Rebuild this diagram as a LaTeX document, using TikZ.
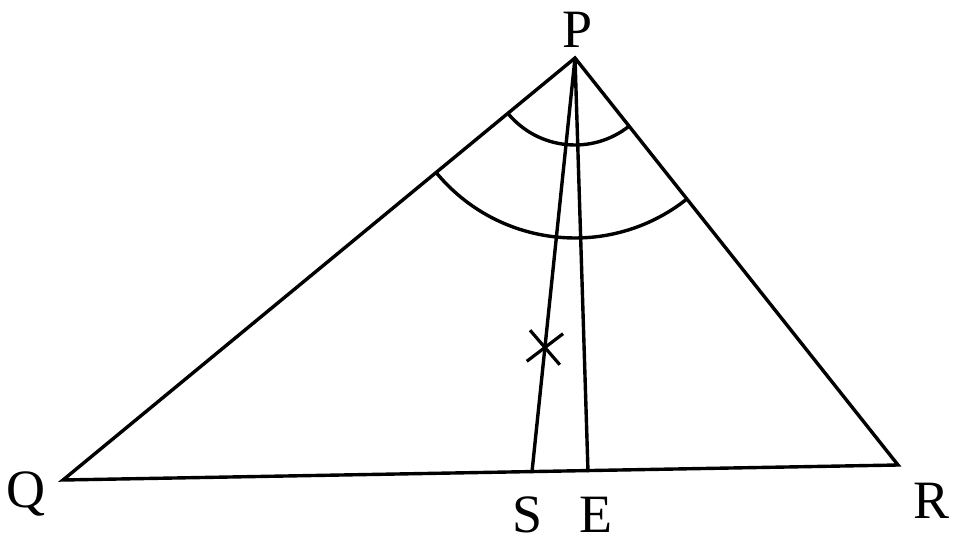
\documentclass[tikz,border=0pt]{standalone}
\usepackage{fontspec}
\setmainfont{Liberation Serif}
\usetikzlibrary{calc,shapes.misc}
\tikzset{
    %Define style for the triangle sides
    side/.style={
           line width=3.4pt,
           line cap=round,
           line join=miter},
    %Define style for vertex labels
    vlabel/.style={
           font=\fontsize{54}{56}\selectfont,
           inner sep=0pt},
    % Define style for the angle arcs
    anglearc/.style={
           line width=3.4pt},
    % Define style for the equal mark
    tick/.style={
           draw,
           cross out,
           line width=3.2pt,
           minimum width=30pt,
           minimum height=28pt,
           inner sep=0pt},
}
\begin{document}
\begin{tikzpicture}[x=1pt,y=1pt]
  \useasboundingbox (0,0) rectangle (965,552);
  \coordinate (P) at (575,494);
  \coordinate (Q) at (63,72);
  \coordinate (R) at (898,87);
  \coordinate (S) at ($(Q)!0.5617!(R)$);
  \coordinate (E) at ($(Q)!0.6287!(R)$);
  \node[vlabel] (lP) at (578,522) {P};
  \node[vlabel] (lQ) at (26,58)  {Q};
  \node[vlabel] (lR) at (931,51) {R};
  \node[vlabel] (lS) at (528,37) {S};
  \node[vlabel] (lE) at (596,37) {E};
  \draw[side] (P) -- (Q) -- (R) -- cycle;
  \path (P) edge[side] (S);
  \path (P) edge[side] (E);
  % angle marks
  \draw[anglearc] (P) ++(219.5:87) arc[start angle=219.5, end angle=308.4, radius=87];
  \draw[anglearc] (P) ++(219.5:180) arc[start angle=219.5, end angle=308.4, radius=180];
  \path (P) -- (S) node[tick, pos=0.70, rotate=-6] (eq) {};
\end{tikzpicture}
\end{document}
